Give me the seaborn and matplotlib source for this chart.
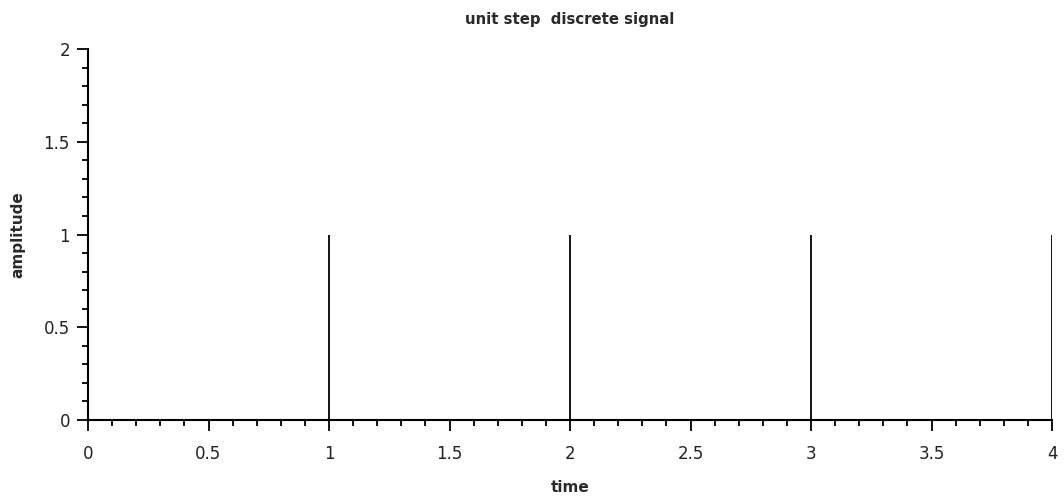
import numpy as np
import pandas as pd
import matplotlib
matplotlib.use("Agg")
import matplotlib.pyplot as plt
import seaborn as sns
from matplotlib.ticker import AutoMinorLocator

# data
n = [0, 1, 2, 3, 4]
amplitude = [1, 1, 1, 1, 1]
xticks = [0, 0.5, 1, 1.5, 2, 2.5, 3, 3.5, 4]
xticklabels = ["0", "0.5", "1", "1.5", "2", "2.5", "3", "3.5", "4"]
yticks = [0, 0.5, 1, 1.5, 2]
yticklabels = ["0", "0.5", "1", "1.5", "2"]

sns.set_style("ticks")
plt.rcParams['font.family'] = ['DejaVu Sans']

fig = plt.figure(figsize=(10.64, 5.0), dpi=100)
ax = fig.add_axes([88/1064, 80/500, (1052-88)/1064, (420-49)/500])

df = pd.DataFrame({"time": n, "amplitude": amplitude})
ax.vlines(df["time"], 0, df["amplitude"], colors="black", linewidth=1.3)

ax.set_xlim(0, 4)
ax.set_ylim(0, 2)
ax.set_xticks(xticks)
ax.set_xticklabels(xticklabels)
ax.set_yticks(yticks)
ax.set_yticklabels(yticklabels)
ax.xaxis.set_minor_locator(AutoMinorLocator(5))
ax.yaxis.set_minor_locator(AutoMinorLocator(5))

sns.despine(ax=ax)
for s in ["left", "bottom"]:
    ax.spines[s].set_linewidth(1.5)
    ax.spines[s].set_color("black")

ax.tick_params(axis="both", which="major", length=8, width=1.3, color="black",
               labelsize=12, labelcolor="#222222")
ax.tick_params(axis="both", which="minor", length=4, width=1.3, color="black")
ax.tick_params(axis="x", which="major", pad=10)
ax.tick_params(axis="y", which="major", pad=5)

ax.set_title("unit step  discrete signal", fontsize=10.7, fontweight="bold",
             color="#2a2a2a", y=1.045)
ax.set_xlabel("time", fontsize=11, fontweight="bold", color="#2a2a2a")
ax.set_ylabel("amplitude", fontsize=11, fontweight="bold", color="#2a2a2a")
ax.xaxis.set_label_coords(0.5, -(487 - 420) / 371)
ax.xaxis.label.set_va("center")
ax.yaxis.set_label_coords(-(88 - 18) / 964, 0.5)
ax.yaxis.label.set_va("center")

fig.savefig("out.png", dpi=100)
